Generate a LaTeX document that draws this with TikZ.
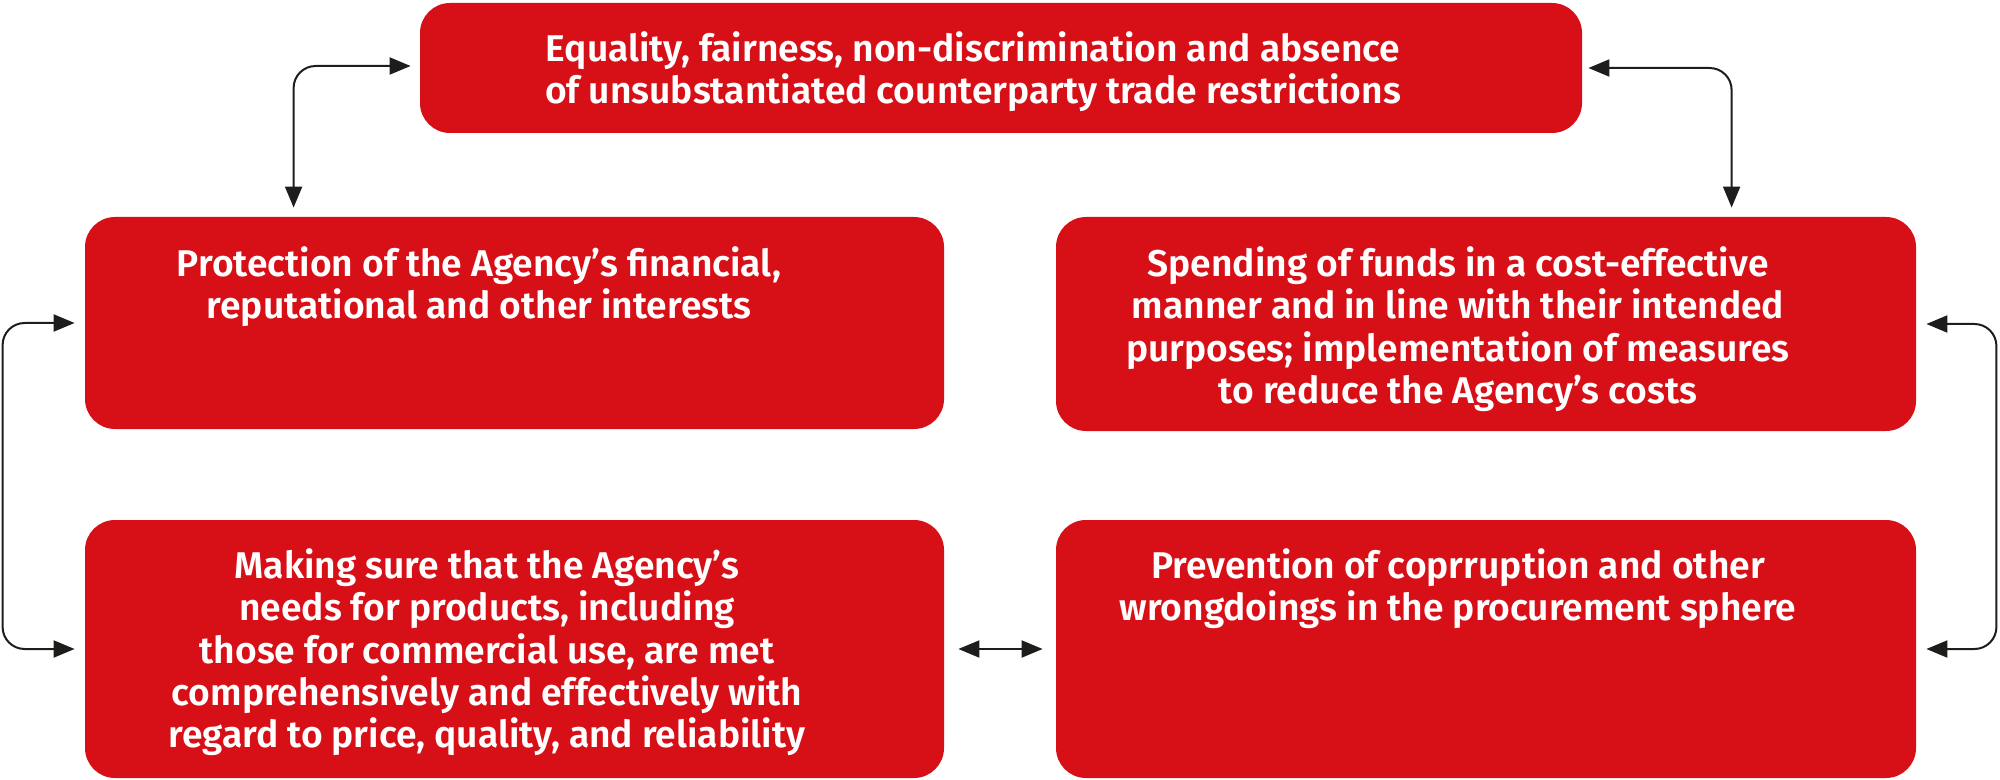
\documentclass[tikz,border=0pt]{standalone}
\usepackage{fontspec}
\setmainfont{Fira Sans}[UprightFont={* SemiBold}]
\usetikzlibrary{arrows.meta,calc}
\definecolor{boxred}{RGB}{215,16,24}
\definecolor{linkgray}{RGB}{29,29,27}
\begin{document}
\begin{tikzpicture}[x=0.5pt,y=-0.5pt,
  box/.style={fill=boxred, draw=none, rounded corners=15pt, inner sep=0pt, rectangle},
  txt/.style={text=white, align=center, inner sep=0pt, anchor=north, font=\fontsize{18.6pt}{21.2pt}\selectfont},
  link/.style={draw=linkgray, line width=1pt, rounded corners=11pt,
    {Triangle[length=10.5pt,width=8.5pt]}-{Triangle[length=10.5pt,width=8.5pt]}}]
\useasboundingbox (0,0) rectangle (2000,780);
% boxes
\node[box, minimum width=581pt, minimum height=65pt] (top) at (1001,68) {};
\node[box, minimum width=429.5pt, minimum height=106pt] (lm) at (514.5,323) {};
\node[box, minimum width=430pt, minimum height=107pt] (rm) at (1486,324) {};
\node[box, minimum width=429.5pt, minimum height=129pt] (lb) at (514.5,649) {};
\node[box, minimum width=430pt, minimum height=129pt] (rb) at (1486,649) {};
% texts
\node[txt] (ttop) at (973,31) {Equality, fairness, non-discrimination and absence\\of unsubstantiated counterparty trade restrictions};
\node[txt] (tlm) at (479,246) {Protection of the Agency’s financial,\\reputational and other interests};
\node[txt] (trm) at (1458,246) {Spending of funds in a cost-effective\\manner and in line with their intended\\purposes; implementation of measures\\to reduce the Agency’s costs};
\node[txt] (tlb) at (487,548) {Making sure that the Agency’s\\needs for products, including\\those for commercial use, are met\\comprehensively and effectively with\\regard to price, quality, and reliability};
\node[txt] (trb) at (1458,548) {Prevention of coprruption and other\\wrongdoings in the procurement sphere};
% connectors
\draw[link] ($(top.west)+(-9,-2)$) -| ($(lm.north west)+(209,-9)$);
\draw[link] ($(top.east)+(6,0)$) -| ($(rm.north west)+(676,-9)$);
\draw[link] ($(lm.west)+(-10,0)$) -- ($(lm.west)+(-82,0)$) -- ($(lb.west)+(-82,0)$) -- ($(lb.west)+(-10,0)$);
\draw[link] ($(rm.east)+(10,0)$) -- ($(rm.east)+(80,0)$) -- ($(rb.east)+(80,0)$) -- ($(rb.east)+(10,0)$);
\draw[link] ($(lb.east)+(14,0)$) -- ($(rb.west)+(-13,0)$);
\end{tikzpicture}
\end{document}
